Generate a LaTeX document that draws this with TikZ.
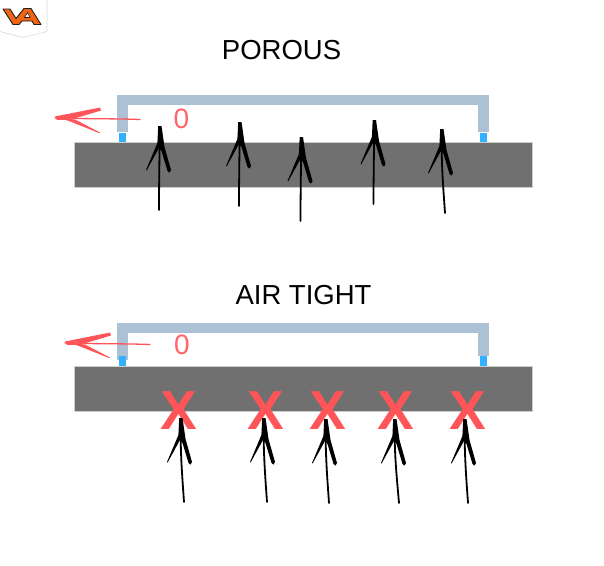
\documentclass[tikz,border=0pt]{standalone}
\usepackage{fontspec}
\setmainfont{Liberation Sans}
\usepackage{xcolor}
\usetikzlibrary{positioning}
\definecolor{xplate}{RGB}{112,112,112}
\definecolor{xplateedge}{RGB}{205,205,205}
\definecolor{xpipe}{RGB}{173,193,212}
\definecolor{xtap}{RGB}{51,176,255}
\definecolor{xred}{RGB}{255,84,88}
\definecolor{xorange}{RGB}{240,100,20}
\definecolor{xdark}{RGB}{30,30,30}

\begin{document}
\begin{tikzpicture}[x=1pt, y=-1pt,
  plate/.style={fill=xplate, draw=xplateedge, line width=0.6pt},
  pipe/.style={fill=xpipe, draw=none},
  tap/.style={fill=xtap, draw=none},
  title/.style={font=\fontsize{27.5}{27.5}\selectfont, text=black, inner sep=0pt},
  zero/.style={font=\fontsize{28}{28}\selectfont, text=xred!90, inner sep=0pt},
  cross/.style={font=\fontsize{55}{55}\selectfont\bfseries, text=xred, inner sep=0pt},
  pics/airarrow/.style={code={
    \fill[black] (-1.8,-1) -- (1.5,-1) -- (4.5,20) -- (11,43) -- (9.5,45.5) -- (7.5,44) -- (1.5,24)
      -- (-1,21) -- (-13.4,43.5) -- (-14,43) -- (-2.6,16) -- cycle;
    \draw[black, line width=1.8pt, line cap=round] (-0.3,10) .. controls (-0.6,35) and ({-0.4+0.6*#1},60) .. (#1,83);
  }},
  pics/redarrow/.style={code={
    \draw[xred, line width=1.3pt, line cap=round] (0,0) .. controls (30,1) and (60,0.5) .. (85,1.5);
    \fill[xred] (0,-1.5) -- (45,-10.5) -- (46,-7.5) -- (16,1.5) -- (2,2) -- cycle;
    \fill[xred] (4,0) -- (20,1.5) -- (45,14.5) -- (44,15) -- (14,3) -- cycle;
  }}
]
  \useasboundingbox (0,0) rectangle (604,565);
  \fill[white] (0,0) rectangle (604,565);

  % badge in the corner
  \fill[white, draw=black!15, line width=0.6pt] (47,-1) -- (47,31.5) -- (23,37.5) -- (0,31.5);
  \fill[xorange, draw=xdark, line width=0.9pt, line join=round]
    (3,9) -- (10,9) -- (16,18.5) -- (24,8.5) -- (31,8.5) -- (41,24.5) -- (34,24.5) -- (32,21) -- (22,21)
    -- (19,24.5) -- (13,24.5) -- cycle;
  \fill[white, draw=xdark, line width=0.6pt] (27.5,12.5) -- (30,17.5) -- (24.5,17.5) -- cycle;

  % porous panel
  \node[title] (poroustitle) at (281.5,50) {POROUS};
  \fill[plate] (74.5,142.5) rectangle (532,187);
  \fill[pipe] (117,95) rectangle (489,105);
  \fill[pipe] (117,95) rectangle (128,132);
  \fill[pipe] (478,95) rectangle (488.5,132);
  \fill[tap] (119,132.5) rectangle (125.5,142);
  \fill[tap] (480,132.5) rectangle (486.5,142);
  \node[zero] (porouszero) at (181.5,119) {0};
  \pic at (55,118) {redarrow};
  \foreach \tx/\ty/\dx in {160/127/-1, 240/123/-1, 301.5/138/-1, 374.5/121/-1, 442/130/3}
    \pic at (\tx,\ty) {airarrow=\dx};

  % air tight panel
  \node[title] (tighttitle) at (303.5,295) {AIR TIGHT};
  \fill[plate] (74.5,366.5) rectangle (532,411);
  \fill[pipe] (117,323) rectangle (489,333);
  \fill[pipe] (117,323) rectangle (127.5,360);
  \fill[pipe] (478,323) rectangle (488.5,356);
  \fill[tap] (119,356) rectangle (126,366);
  \fill[tap] (480,356) rectangle (487,366);
  \node[zero] (tightzero) at (182,345) {0};
  \pic at (65,343) {redarrow};
  \foreach \cx [count=\i] in {179,265.5,327.5,395.5,467.5}
    \node[cross] (cross\i) at (\cx,411) {X};
  \foreach \tx/\ty/\dx in {181/419/3, 264/419/3, 326/420/3, 395/420/4, 465/420/3}
    \pic at (\tx,\ty) {airarrow=\dx};
\end{tikzpicture}
\end{document}
